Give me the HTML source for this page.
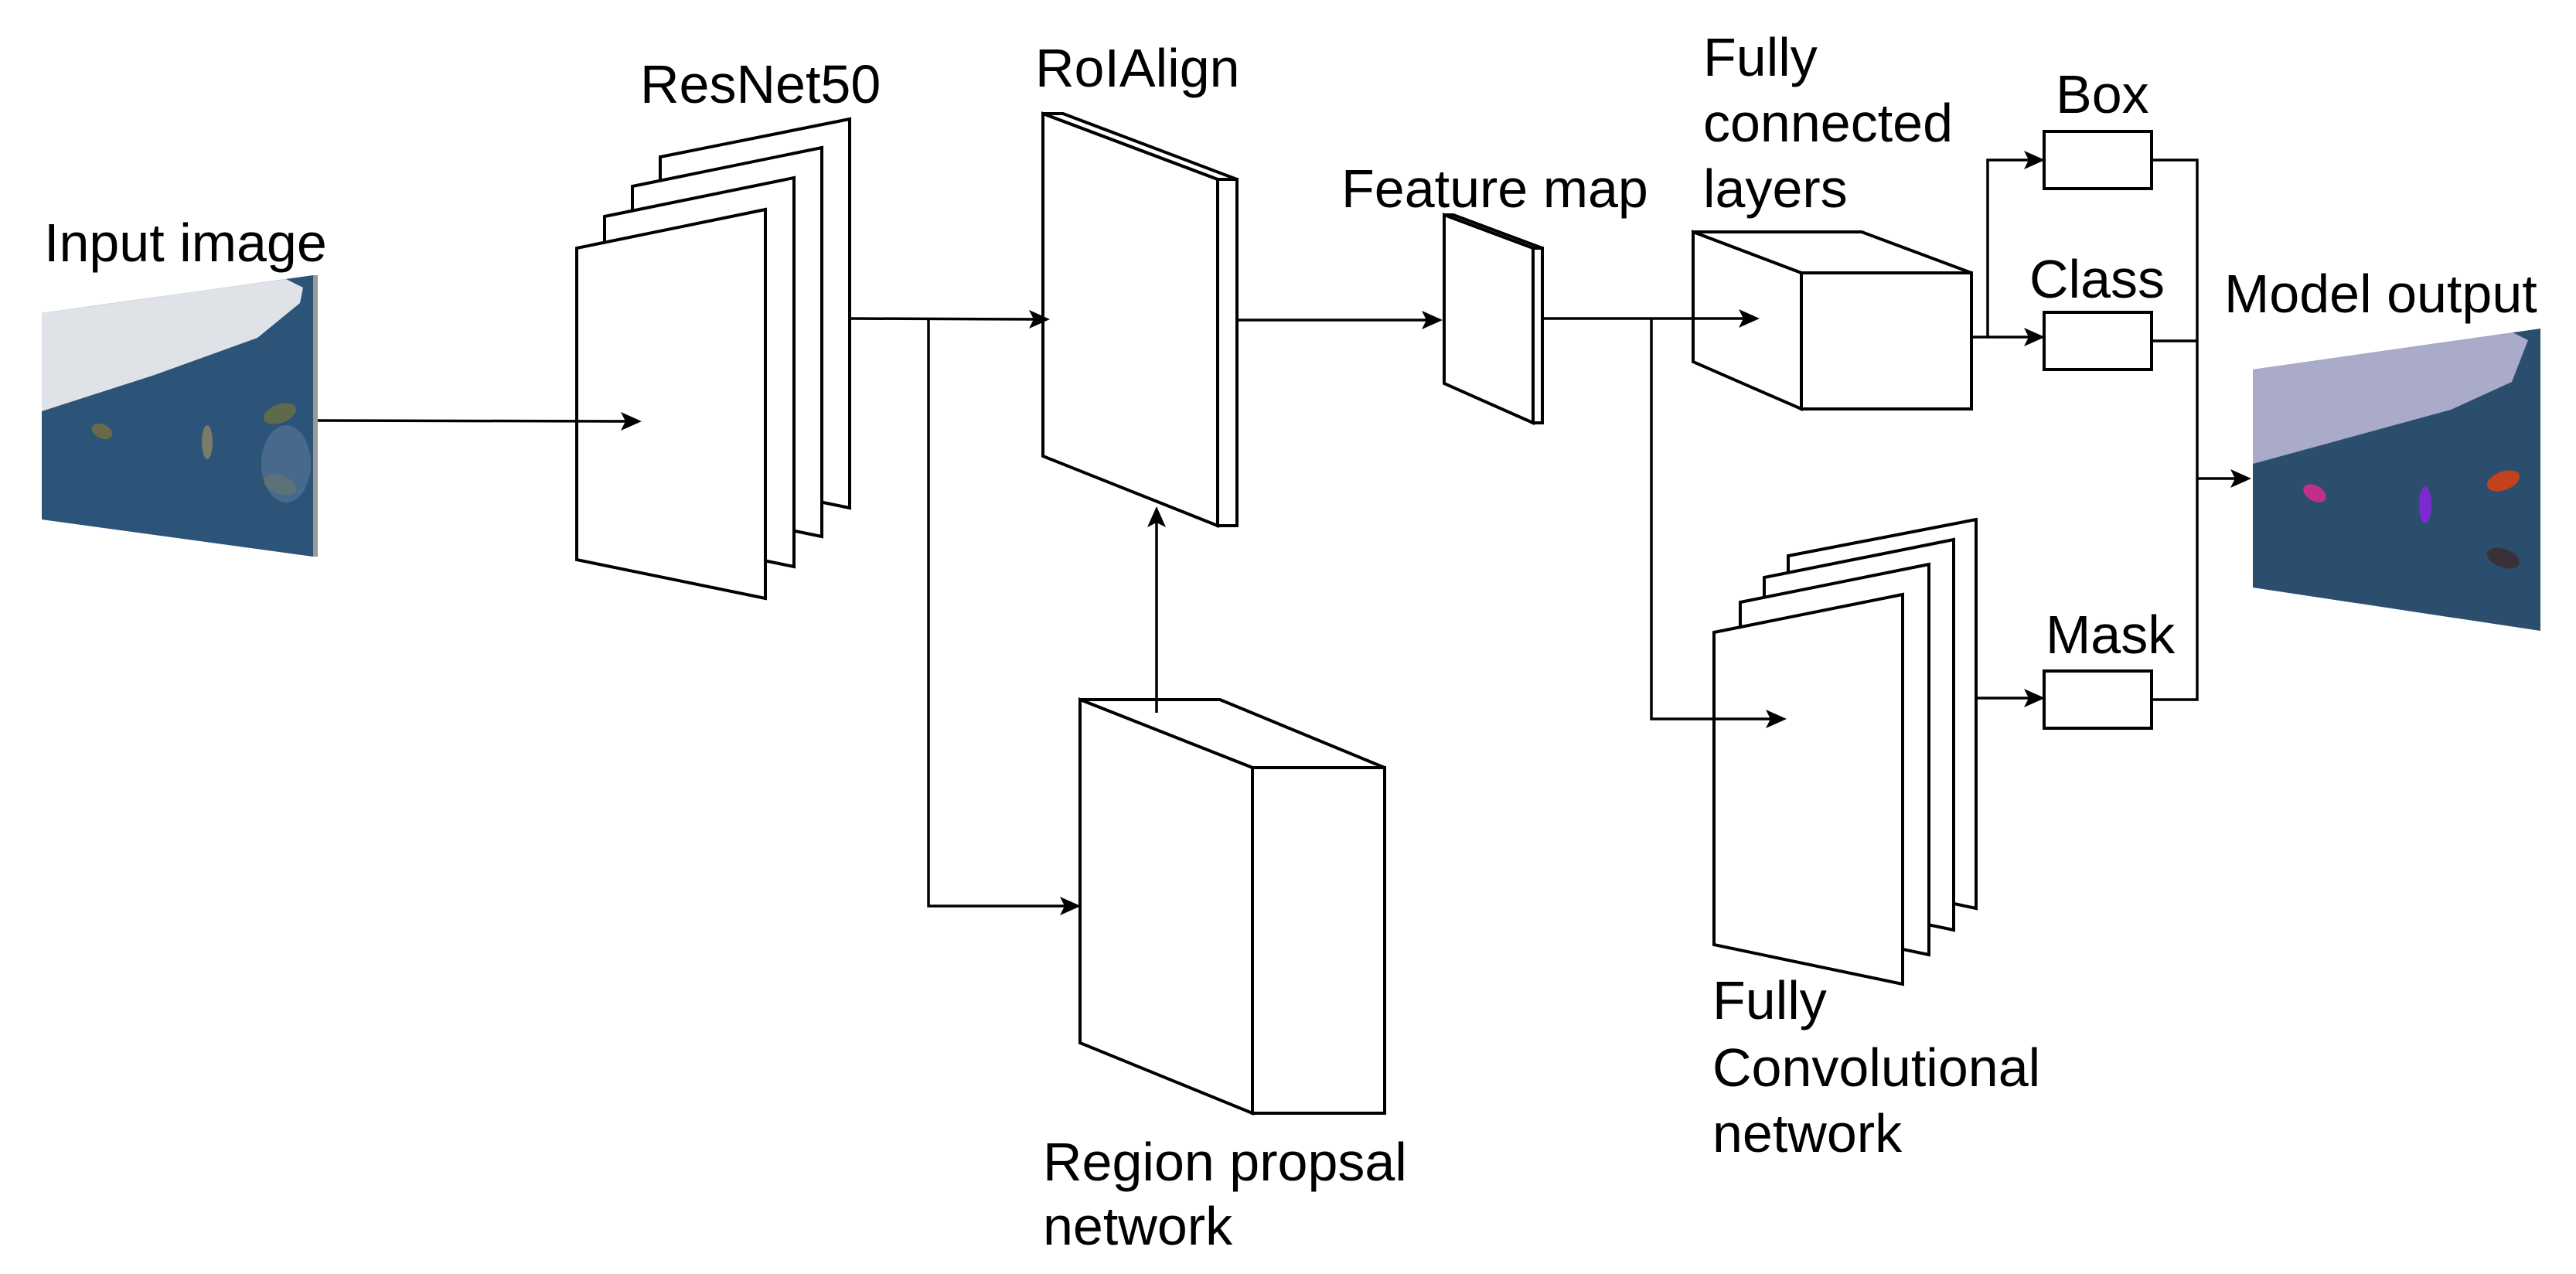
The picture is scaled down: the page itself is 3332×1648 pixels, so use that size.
<!DOCTYPE html>
<html><head><meta charset="utf-8"><style>
html,body{margin:0;padding:0;background:#fff;}
svg{display:block;}
text{font-family:"Liberation Sans",sans-serif;font-size:70px;fill:#000;}
</style></head><body>
<svg width="3332" height="1648" viewBox="0 0 3332 1648" xmlns="http://www.w3.org/2000/svg">
<g stroke="#000" stroke-width="4" fill="#fff" stroke-linejoin="miter">

<!-- Input image -->
<polygon points="54,405 405,356 405,720 54,672" fill="#2c5479" stroke="none"/>
<polygon points="54,405 370,361 392,372 388,392 333,437 200,485 54,532" fill="#dfe3e8" stroke="none"/>
<rect x="405" y="356" width="6" height="364" fill="#999" stroke="none"/>
<g stroke="none">
<ellipse cx="132" cy="558" rx="14" ry="9" fill="#6a6a4a" transform="rotate(25 132 558)"/>
<ellipse cx="268" cy="572" rx="7" ry="22" fill="#7a7a6a"/>
<ellipse cx="362" cy="535" rx="22" ry="12" fill="#5f6a4a" transform="rotate(-20 362 535)"/>
<ellipse cx="362" cy="627" rx="22" ry="12" fill="#5f6a4a" transform="rotate(20 362 627)"/>
<ellipse cx="370" cy="600" rx="32" ry="50" fill="#5a7898" opacity="0.6"/>
</g>

<!-- Output image -->
<polygon points="2914,478 3286,425 3286,816 2914,760" fill="#2b4e6e" stroke="none"/>
<polygon points="2914,478 3250,430 3270,440 3249,494 3170,530 2914,600" fill="#a9abc8" stroke="none"/>
<g stroke="none">
<ellipse cx="2994" cy="638" rx="16" ry="10" fill="#c0308a" transform="rotate(30 2994 638)"/>
<ellipse cx="3137" cy="653" rx="8" ry="24" fill="#7a2ad0"/>
<ellipse cx="3238" cy="622" rx="22" ry="12" fill="#c2421c" transform="rotate(-20 3238 622)"/>
<ellipse cx="3238" cy="722" rx="22" ry="12" fill="#3a3038" transform="rotate(20 3238 722)"/>
</g>

<!-- ResNet planes (back to front) -->
<polygon points="854,203 1099,154 1099,657 854,607"/>
<polygon points="818,241 1063,191 1063,694 818,644"/>
<polygon points="782,280 1027,230 1027,733 782,683"/>
<polygon points="746,321 990,271 990,774 746,724"/>

<!-- RoIAlign -->
<polygon points="1349,147 1375,147 1600,232 1575,232"/>
<polygon points="1575,232 1600,232 1600,680 1575,680"/>
<polygon points="1349,147 1575,232 1575,680 1349,590"/>

<!-- RPN cuboid -->
<polygon points="1397,905 1578,905 1791,993 1620,993"/>
<polygon points="1620,993 1791,993 1791,1440 1620,1440"/>
<polygon points="1397,905 1620,993 1620,1440 1397,1349"/>

<!-- Feature map -->
<polygon points="1868,278 1880,278 1995,321 1983,321"/>
<polygon points="1983,321 1995,321 1995,547 1983,547"/>
<polygon points="1868,278 1983,321 1983,547 1868,496"/>

<!-- FC cuboid -->
<polygon points="2190,300 2408,300 2550,353 2330,353"/>
<polygon points="2330,353 2550,353 2550,529 2330,529"/>
<polygon points="2190,300 2330,353 2330,529 2190,468"/>

<!-- FCN planes -->
<polygon points="2313,719 2556,672 2556,1175 2313,1124"/>
<polygon points="2282,747 2527,698 2527,1203 2282,1152"/>
<polygon points="2251,779 2495,730 2495,1235 2251,1184"/>
<polygon points="2217,818 2461,769 2461,1273 2217,1222"/>

<!-- output boxes -->
<rect x="2644" y="170" width="139" height="74"/>
<rect x="2644" y="404" width="139" height="74"/>
<rect x="2644" y="868" width="139" height="74"/>
</g>

<!-- connectors -->
<g stroke="#000" stroke-width="3.5" fill="none">
<line x1="411" y1="544" x2="810" y2="545"/>
<polyline points="1099,412 1337,413"/>
<polyline points="1201,412 1201,1172 1378,1172"/>
<line x1="1496" y1="922" x2="1496" y2="675"/>
<line x1="1600" y1="414" x2="1846" y2="414"/>
<line x1="1995" y1="412" x2="2256" y2="412"/>
<polyline points="2136,412 2136,930 2291,930"/>
<polyline points="2550,436 2625,436"/>
<polyline points="2571,436 2571,207 2625,207"/>
<line x1="2556" y1="903" x2="2625" y2="903"/>
<polyline points="2783,207 2842,207 2842,905 2783,905"/>
<line x1="2783" y1="441" x2="2842" y2="441"/>
<line x1="2842" y1="619" x2="2892" y2="619"/>
</g>
<g fill="#000">
<polygon points="830,545 803,533 809,545 803,557"/>
<polygon points="1358,413 1331,401 1337,413 1331,425"/>
<polygon points="1398,1172 1371,1160 1377,1172 1371,1184"/>
<polygon points="1496,655 1484,682 1496,676 1508,682"/>
<polygon points="1866,414 1839,402 1845,414 1839,426"/>
<polygon points="2276,412 2249,400 2255,412 2249,424"/>
<polygon points="2311,930 2284,918 2290,930 2284,942"/>
<polygon points="2645,207 2618,195 2624,207 2618,219"/>
<polygon points="2645,436 2618,424 2624,436 2618,448"/>
<polygon points="2645,903 2618,891 2624,903 2618,915"/>
<polygon points="2912,619 2885,607 2891,619 2885,631"/>
</g>

<!-- labels -->
<text x="57" y="338">Input image</text>
<text x="828" y="133">ResNet50</text>
<text x="1339" y="112">RoIAlign</text>
<text x="1349" y="1527">Region propsal</text>
<text x="1349" y="1610">network</text>
<text x="1735" y="268">Feature map</text>
<text x="2203" y="98">Fully</text>
<text x="2203" y="183">connected</text>
<text x="2203" y="268">layers</text>
<text x="2659" y="146">Box</text>
<text x="2625" y="385">Class</text>
<text x="2646" y="845">Mask</text>
<text x="2877" y="404">Model output</text>
<text x="2215" y="1318">Fully</text>
<text x="2215" y="1405">Convolutional</text>
<text x="2215" y="1490">network</text>
</svg>
</body></html>
